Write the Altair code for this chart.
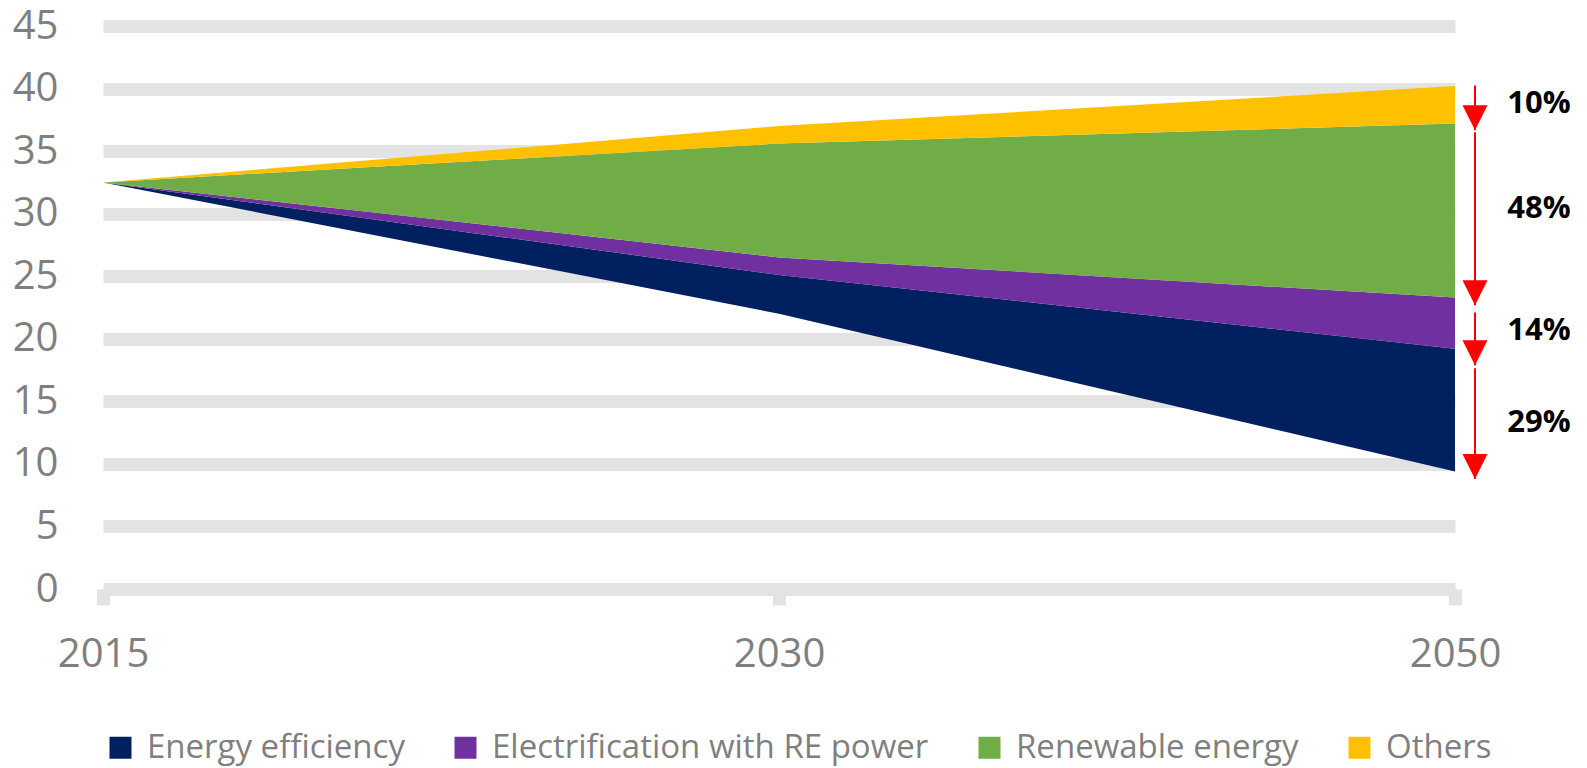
import altair as alt
import pandas as pd

# ---- data ----
years = ["2015", "2030", "2050"]
series = ["Energy efficiency", "Electrification with RE power", "Renewable energy", "Others"]
colors = ["#002060", "#7030A0", "#70AD47", "#FFC000"]

base_level = [32.5, 22.0, 9.4]          # remaining emissions (white area below)
energy_eff = [0.0, 3.1, 9.8]
electrif = [0.0, 1.4, 4.1]
renewable = [0.0, 9.1, 13.9]
others = [0.0, 1.4, 3.0]

# arrows at 2050 (data units)
arrow_top = [40.25, 36.5, 22.1, 17.65]
arrow_tip = [36.66, 22.68, 17.89, 8.79]
share_labels = ["10%", "48%", "14%", "29%"]
share_label_y = [38.8, 30.4, 20.6, 13.3]

# ---- build tables ----
rows = []
comps = [energy_eff, electrif, renewable, others]
for i, yr in enumerate(years):
    lower = base_level[i]
    for s, comp in zip(series, comps):
        upper = lower + comp[i]
        rows.append({"year": yr, "series": s, "lower": lower, "upper": upper,
                     "order": series.index(s)})
        lower = upper
area_df = pd.DataFrame(rows)

arrow_df = pd.DataFrame({"year": ["2050"] * 4, "top": arrow_top, "tip": arrow_tip})
label_df = pd.DataFrame({"year": ["2050"] * 4, "y": share_label_y, "text": share_labels})

GRAY = "#7f7f7f"
GRID = "#e3e3e3"
FONT = "Open Sans"

x_enc = alt.X(
    "year:O",
    scale=alt.Scale(type="point", padding=0, domain=years),
    axis=alt.Axis(
        title=None, labelAngle=0, domain=False, grid=False,
        ticks=True, tickColor=GRID, tickWidth=13, tickSize=16,
        labelPadding=29, labelFont=FONT, labelFontSize=40, labelColor=GRAY,
    ),
)

y_scale = alt.Scale(domain=[0, 45], nice=False)

areas = alt.Chart(area_df).mark_area(opacity=1).encode(
    x=x_enc,
    y=alt.Y(
        "lower:Q", scale=y_scale,
        axis=alt.Axis(
            title=None, values=list(range(0, 46, 5)), grid=True, gridColor=GRID,
            gridWidth=13, domain=False, ticks=False, labelFont=FONT,
            labelFontSize=40, labelColor=GRAY, labelPadding=45,
        ),
    ),
    y2="upper:Q",
    color=alt.Color(
        "series:N",
        scale=alt.Scale(domain=series, range=colors),
        legend=alt.Legend(
            title=None, orient="none", direction="horizontal",
            legendX=1, legendY=705, symbolType="square", symbolSize=484,
            symbolStrokeWidth=0, labelFont=FONT, labelFontSize=33,
            labelColor=GRAY, labelOffset=10, columnPadding=44, labelLimit=0,
        ),
    ),
    detail="series:N",
    order="order:Q",
)

rules = alt.Chart(arrow_df).mark_rule(color="#FF0000", strokeWidth=2, xOffset=20).encode(
    x=alt.X("year:O"),
    y=alt.Y("top:Q", scale=y_scale),
    y2="tip:Q",
)

heads = alt.Chart(arrow_df).mark_point(
    shape="M-1,-1L1,-1L0,1Z", size=625, filled=True, color="#FF0000",
    opacity=1, xOffset=20, yOffset=-12.5,
).encode(
    x=alt.X("year:O"),
    y=alt.Y("tip:Q", scale=y_scale),
)

labels = alt.Chart(label_df).mark_text(
    dx=84, font=FONT, fontSize=31, fontWeight="bold", color="#000000",
    align="center", baseline="middle",
).encode(
    x=alt.X("year:O"),
    y=alt.Y("y:Q", scale=y_scale),
    text="text:N",
)

chart = alt.layer(areas, rules, heads, labels).properties(
    width=1352, height=563,
    padding={"left": 95, "top": 18, "right": 124, "bottom": 185},
    autosize=alt.AutoSizeParams(type="none"),
).configure_view(stroke=None)

chart.save("out.html", embed_options={"renderer": "svg", "actions": False})
